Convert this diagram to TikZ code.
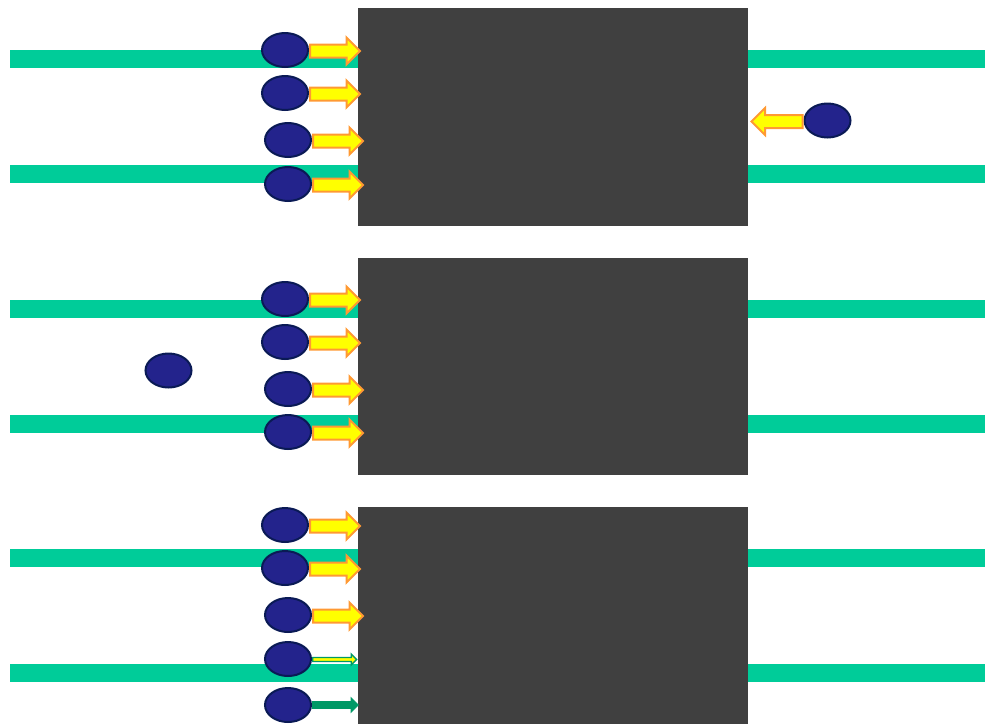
\documentclass[tikz,border=0pt]{standalone}
\usetikzlibrary{shapes.arrows,shapes.geometric}
\definecolor{barg}{HTML}{00CC99}
\definecolor{boxg}{HTML}{404040}
\definecolor{ballf}{HTML}{23238C}
\definecolor{balld}{HTML}{0A1A55}
\definecolor{arrY}{HTML}{FFFF00}
\definecolor{arrO}{HTML}{FF9933}
\definecolor{arrG}{HTML}{009966}
\begin{document}
\begin{tikzpicture}[x=1pt,y=-1pt,
  bar/.style={fill=barg,draw=none},
  block/.style={fill=boxg,draw=none},
  ball/.style={ellipse,fill=ballf,draw=balld,line width=2pt,inner sep=0pt,minimum width=46pt,minimum height=34pt},
  yarrow/.style={single arrow,fill=arrY,draw=arrO,line width=2pt,inner xsep=0pt,inner ysep=5.5pt,
     single arrow head extend=7pt,single arrow tip angle=90,
     anchor=tail,minimum height=50pt},
  garrowthin/.style={single arrow,fill=arrY,draw=arrG,line width=1.3pt,inner xsep=0pt,inner ysep=1.3pt,
     single arrow head extend=3.5pt,single arrow tip angle=90,
     anchor=tail,minimum height=44pt},
  garrow/.style={single arrow,fill=arrG,draw=arrG,line width=0.8pt,inner xsep=0pt,inner ysep=3pt,
     single arrow head extend=4pt,single arrow tip angle=90,
     anchor=tail,minimum height=46pt},
  ]
\useasboundingbox (0,0) rectangle (985,724);
% green bars
\foreach \yc in {59,174,309,424,558,673}{
  \fill[bar] (10,\yc-9) rectangle (358,\yc+9);
  \fill[bar] (748,\yc-9) rectangle (985,\yc+9);
}
% dark blocks
\node[block,minimum width=390pt,minimum height=218pt,inner sep=0pt,anchor=north west] (b1) at (358,8) {};
\node[block,minimum width=390pt,minimum height=217pt,inner sep=0pt,anchor=north west] (b2) at (358,258) {};
\node[block,minimum width=390pt,minimum height=217pt,inner sep=0pt,anchor=north west] (b3) at (358,507) {};
% panel 1
\node[ball] (p1a) at (285,50) {};
\node[ball] (p1b) at (285,93) {};
\node[ball] (p1c) at (288,140) {};
\node[ball] (p1d) at (288,184) {};
\node[ball] (p1r) at (827.5,120.5) {};
\node[yarrow] (q1a) at ([yshift=-1pt]p1a.east) {};
\node[yarrow] (q1b) at ([yshift=-1pt]p1b.east) {};
\node[yarrow] (q1c) at ([yshift=-1pt]p1c.east) {};
\node[yarrow] (q1d) at ([yshift=-1pt]p1d.east) {};
\node[yarrow,shape border rotate=180,minimum height=51pt] (q1r) at ([yshift=-1pt]p1r.west) {};
% panel 2
\node[ball] (p2a) at (285,299) {};
\node[ball] (p2b) at (285,342) {};
\node[ball] (p2c) at (288,389) {};
\node[ball] (p2d) at (288,432) {};
\node[ball] (p2l) at (168.5,370.5) {};
\node[yarrow] (q2a) at ([yshift=-1pt]p2a.east) {};
\node[yarrow] (q2b) at ([yshift=-1pt]p2b.east) {};
\node[yarrow] (q2c) at ([yshift=-1pt]p2c.east) {};
\node[yarrow] (q2d) at ([yshift=-1pt]p2d.east) {};
% panel 3
\node[ball] (p3a) at (285,525) {};
\node[ball] (p3b) at (285,568) {};
\node[ball] (p3c) at (288,615) {};
\node[ball] (p3d) at (288,659) {};
\node[ball] (p3e) at (288,705) {};
\node[yarrow] (q3a) at ([yshift=-1pt]p3a.east) {};
\node[yarrow] (q3b) at ([yshift=-1pt]p3b.east) {};
\node[yarrow] (q3c) at ([yshift=-1pt]p3c.east) {};
\node[garrowthin] (q3d) at ([yshift=-0.5pt]p3d.east) {};
\node[garrow] (q3e) at (p3e.east) {};
\end{tikzpicture}
\end{document}
